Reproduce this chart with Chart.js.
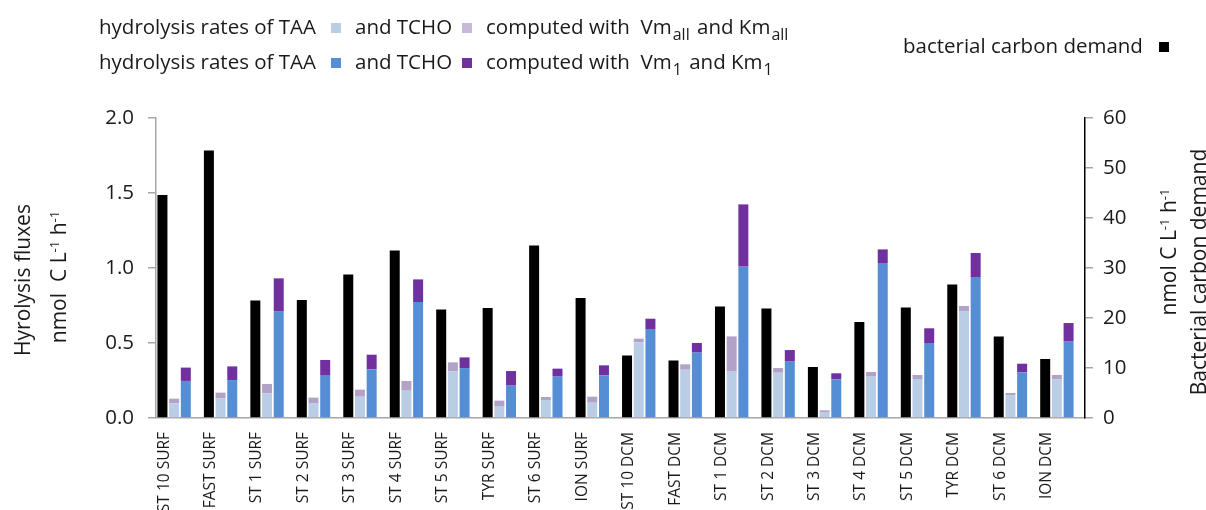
<!DOCTYPE html>
<html>
<head>
<meta charset="utf-8">
<script src="https://cdn.jsdelivr.net/npm/chart.js"></script>
<style>
    body { margin: 0; background: #fff; font-family: "Open Sans", sans-serif; color: #1a1a1a; }
    #wrap { position: relative; width: 1206px; height: 510px; overflow: hidden; }
    #chart { position: absolute; left: 0; top: 0; }
    .txt { position: absolute; white-space: nowrap; font-size: 20.5px; line-height: 1; }
    .sw { position: absolute; width: 10px; height: 10px; }
    .rot { position: absolute; white-space: nowrap; font-size: 21px; line-height: 1; transform: translate(-50%, -50%) rotate(-90deg); }
    sub, sup { line-height: 0; position: relative; vertical-align: baseline; }
    sub { font-size: 0.78em; top: 0.35em; margin-left: 1px; margin-right: 2px; }
    sup { font-size: 0.62em; top: -0.55em; }
</style>
</head>
<body>
<div id="wrap">
    <canvas id="chart" width="1206" height="510"></canvas>

    <!-- legend -->
    <span class="txt" style="left:99px; top:16px;">hydrolysis rates of TAA</span>
    <span class="sw" style="left:331px; top:23px; background:#b9cde5;"></span>
    <span class="txt" style="left:355px; top:16px;">and TCHO</span>
    <span class="sw" style="left:462px; top:23px; background:#c6b9d9;"></span>
    <span class="txt" style="left:486px; top:16px;">computed with&nbsp; Vm<sub>all</sub> and Km<sub>all</sub></span>

    <span class="txt" style="left:99px; top:51px;">hydrolysis rates of TAA</span>
    <span class="sw" style="left:331px; top:58px; background:#558ed5;"></span>
    <span class="txt" style="left:355px; top:51px;">and TCHO</span>
    <span class="sw" style="left:462px; top:58px; background:#7030a0;"></span>
    <span class="txt" style="left:486px; top:51px;">computed with&nbsp; Vm<sub>1</sub> and Km<sub>1</sub></span>

    <span class="txt" style="left:903px; top:35px;">bacterial carbon demand</span>
    <span class="sw" style="left:1159px; top:42px; background:#000;"></span>

    <!-- axis titles -->
    <div class="rot" style="left:22px; top:280px;">Hyrolysis fluxes</div>
    <div class="rot" style="left:58px; top:277px;">nmol&nbsp; C L<sup>-1</sup> h<sup>-1</sup></div>
    <div class="rot" style="left:1168px; top:252px;">nmol C L<sup>-1</sup> h<sup>-1</sup></div>
    <div class="rot" style="left:1198px; top:272px;">Bacterial carbon demand</div>
</div>

<script>
// stations
const categories = ['ST 10 SURF', 'FAST SURF', 'ST 1 SURF', 'ST 2 SURF', 'ST 3 SURF', 'ST 4 SURF', 'ST 5 SURF', 'TYR SURF', 'ST 6 SURF', 'ION SURF',
    'ST 10 DCM', 'FAST DCM', 'ST 1 DCM', 'ST 2 DCM', 'ST 3 DCM', 'ST 4 DCM', 'ST 5 DCM', 'TYR DCM', 'ST 6 DCM', 'ION DCM'];

// bacterial carbon demand (right axis)
const bcd = [44.6, 53.5, 23.5, 23.6, 28.7, 33.5, 21.7, 22.0, 34.5, 24.0, 12.5, 11.5, 22.3, 21.9, 10.2, 19.2, 22.1, 26.7, 16.3, 11.8];

// Vm_all / Km_all : TAA and TCHO part stacked on top
const taaAll = [0.098, 0.131, 0.164, 0.096, 0.142, 0.182, 0.311, 0.080, 0.120, 0.102, 0.504, 0.322, 0.309, 0.302, 0.036, 0.276, 0.260, 0.711, 0.153, 0.258];
const tchoAll = [0.031, 0.038, 0.063, 0.040, 0.047, 0.065, 0.060, 0.036, 0.020, 0.040, 0.025, 0.036, 0.235, 0.031, 0.015, 0.031, 0.027, 0.036, 0.014, 0.029];

// Vm_1 / Km_1
const taa1 = [0.247, 0.253, 0.709, 0.282, 0.324, 0.773, 0.333, 0.216, 0.276, 0.284, 0.593, 0.436, 1.009, 0.376, 0.258, 1.033, 0.500, 0.940, 0.304, 0.513];
const tcho1 = [0.089, 0.091, 0.222, 0.105, 0.098, 0.151, 0.071, 0.097, 0.053, 0.067, 0.069, 0.064, 0.415, 0.077, 0.040, 0.091, 0.098, 0.160, 0.058, 0.120];

const leftTicks = [0, 0.5, 1.0, 1.5, 2.0];
const rightTicks = [0, 10, 20, 30, 40, 50, 60];

document.addEventListener('DOMContentLoaded', function () {
    const ctx = document.getElementById('chart').getContext('2d');
    const font = '"Open Sans", sans-serif';
    const idx = categories.map((c, i) => i);

    const barOpts = { categoryPercentage: 0.755, barPercentage: 0.855, borderWidth: 0 };

    new Chart(ctx, {
        type: 'bar',
        data: {
            labels: idx,
            datasets: [
                Object.assign({ label: 'bacterial carbon demand', data: bcd, backgroundColor: '#000', stack: 'bcd', yAxisID: 'y2' }, barOpts),
                Object.assign({ label: 'TAA all', data: taaAll, backgroundColor: '#b9cde5', stack: 'all', yAxisID: 'y' }, barOpts),
                Object.assign({ label: 'TCHO all', data: tchoAll, backgroundColor: '#b3a2c7', stack: 'all', yAxisID: 'y' }, barOpts),
                Object.assign({ label: 'TAA 1', data: taa1, backgroundColor: '#558ed5', stack: 'one', yAxisID: 'y' }, barOpts),
                Object.assign({ label: 'TCHO 1', data: tcho1, backgroundColor: '#7030a0', stack: 'one', yAxisID: 'y' }, barOpts)
            ]
        },
        options: {
            responsive: false,
            animation: false,
            layout: { padding: { top: 118, left: 0, right: 0, bottom: 0 } },
            plugins: { legend: { display: false }, tooltip: { enabled: false } },
            scales: {
                x: {
                    type: 'linear',
                    stacked: true,
                    offset: false,
                    min: -0.39,
                    max: 19.605,
                    afterBuildTicks: s => { s.ticks = idx.map(i => ({ value: i })); },
                    afterFit: s => { s.height = 92; },
                    grid: { display: false },
                    border: { display: true, color: '#a6a6a6', width: 1.5 },
                    ticks: {
                        autoSkip: false,
                        minRotation: 90,
                        maxRotation: 90,
                        labelOffset: -10,
                        padding: 6,
                        color: '#1a1a1a',
                        font: { family: font, size: 15.5 },
                        callback: v => categories[v]
                    }
                },
                y: {
                    position: 'left',
                    stacked: true,
                    min: 0,
                    max: 2,
                    afterBuildTicks: s => { s.ticks = leftTicks.map(v => ({ value: v })); },
                    afterFit: s => { s.width = 156; },
                    grid: { drawOnChartArea: false, color: '#a6a6a6', tickLength: 8, lineWidth: 1.5 },
                    border: { display: true, color: '#a6a6a6', width: 1.5 },
                    ticks: { color: '#1a1a1a', padding: 14, font: { family: font, size: 20.5 }, callback: v => v.toFixed(1) }
                },
                y2: {
                    position: 'right',
                    stacked: true,
                    min: 0,
                    max: 60,
                    afterBuildTicks: s => { s.ticks = rightTicks.map(v => ({ value: v })); },
                    afterFit: s => { s.width = 121; },
                    grid: { drawOnChartArea: false, color: '#a6a6a6', tickLength: 8, lineWidth: 1.5 },
                    border: { display: true, color: '#000', width: 1.5 },
                    ticks: { color: '#1a1a1a', padding: 10, font: { family: font, size: 20.5 } }
                }
            }
        }
    });
});
</script>
</body>
</html>
